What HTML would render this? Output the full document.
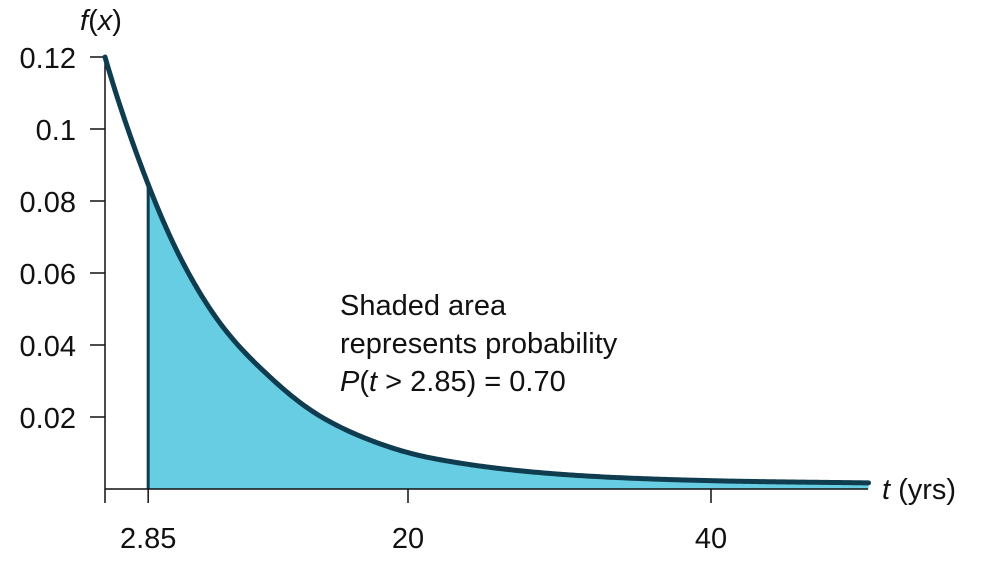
<!DOCTYPE html>
<html><head><meta charset="utf-8"><style>
html,body{margin:0;padding:0;background:#fff;}
svg text{font-family:"Liberation Sans",sans-serif;font-size:29px;fill:#111;}
</style></head><body>
<svg id="chart" width="981" height="564" viewBox="0 0 981 564"></svg>
<script>
const curveT = [0, 2.31, 5.15, 7.59, 10.89, 14.06, 17.49, 20.66, 23.43, 32.7, 40.1, 50.4];
const curveF = [0.12, 0.0906, 0.0628, 0.0461, 0.0311, 0.0206, 0.0136, 0.0094, 0.0072, 0.0034, 0.0023, 0.0017];
const shadeFrom = 2.85;
const xTicks = [0, 2.85, 20, 40];
const xTickLabels = ["", "2.85", "20", "40"];
const yTicks = [0.02, 0.04, 0.06, 0.08, 0.1, 0.12];
const yTickLabels = ["0.02", "0.04", "0.06", "0.08", "0.1", "0.12"];

const NS = "http://www.w3.org/2000/svg";
const svg = document.getElementById("chart");
const X = t => 105 + t * 15.15;
const Y = f => 489 - f * 3600;
function mk(tag, attrs, parent){const e=document.createElementNS(NS,tag);for(const k in attrs)e.setAttribute(k,attrs[k]);(parent||svg).appendChild(e);return e;}

const L = curveF.map(Math.log);
const n = curveT.length;
const sec = []; for(let i=0;i<n-1;i++) sec.push((L[i+1]-L[i])/(curveT[i+1]-curveT[i]));
const tan = curveT.map((t,i)=> i===0 ? sec[0] : i===n-1 ? sec[n-2] :
  (sec[i-1]*(curveT[i+1]-t) + sec[i]*(t-curveT[i-1]))/(curveT[i+1]-curveT[i-1]));
function fAt(t){
  let i=0; while(i<n-2 && t>curveT[i+1]) i++;
  const h=curveT[i+1]-curveT[i], s=(t-curveT[i])/h;
  const h00=2*s*s*s-3*s*s+1,h10=s*s*s-2*s*s+s,h01=-2*s*s*s+3*s*s,h11=s*s*s-s*s;
  return Math.exp(h00*L[i]+h10*h*tan[i]+h01*L[i+1]+h11*h*tan[i+1]);
}
function sampled(t0,t1){const pts=[];const N=300;for(let k=0;k<=N;k++){const t=t0+(t1-t0)*k/N;pts.push(`${X(t).toFixed(2)},${Y(fAt(t)).toFixed(2)}`);}return pts;}
const tEnd = curveT[n-1];

const area=mk("path",{d:"M"+sampled(shadeFrom,tEnd).join(" L")+` L${X(tEnd)},${Y(0)} L${X(shadeFrom)},${Y(0)} Z`,fill:"#67cde2",stroke:"none"});


const vline=mk("line",{x1:X(shadeFrom),x2:X(shadeFrom),y1:Y(0),y2:Y(fAt(shadeFrom)),stroke:"#0f3d4f","stroke-width":3});



const yAxis=mk("line",{x1:105,x2:105,y1:58,y2:489,stroke:"#111","stroke-width":1.5});


const xAxis=mk("line",{x1:105,x2:868,y1:489,y2:489,stroke:"#111","stroke-width":1.5});



yTicks.forEach((v,i)=>{
  const tk=mk("line",{x1:90,x2:105,y1:Y(v),y2:Y(v),stroke:"#111","stroke-width":1.5});
  
  
  const tx=mk("text",{x:76,y:Y(v)+11,"text-anchor":"end"});tx.textContent=yTickLabels[i];
  
  
});
xTicks.forEach((v,i)=>{
  const tk=mk("line",{x1:X(v),x2:X(v),y1:489,y2:503,stroke:"#111","stroke-width":1.5});
  
  
  if(xTickLabels[i]){const tx=mk("text",{x:X(v),y:548,"text-anchor":"middle"});tx.textContent=xTickLabels[i];
  
  }
});

const curve=mk("path",{d:"M"+sampled(curveT[0],tEnd).join(" L"),fill:"none",stroke:"#0f3d4f","stroke-width":5,"stroke-linecap":"round","stroke-linejoin":"round"});



const yt=mk("text",{x:80,y:30});yt.innerHTML='<tspan font-style="italic">f</tspan>(<tspan font-style="italic">x</tspan>)';


const xt=mk("text",{x:882,y:499});xt.innerHTML='<tspan font-style="italic">t</tspan> (yrs)';


const ann=mk("text",{x:340,y:315});
ann.innerHTML='<tspan x="340">Shaded area</tspan><tspan x="340" dy="38">represents probability</tspan><tspan x="340" dy="38"><tspan font-style="italic">P</tspan>(<tspan font-style="italic">t</tspan> &gt; 2.85) = 0.70</tspan>';


</script>
</body></html>
